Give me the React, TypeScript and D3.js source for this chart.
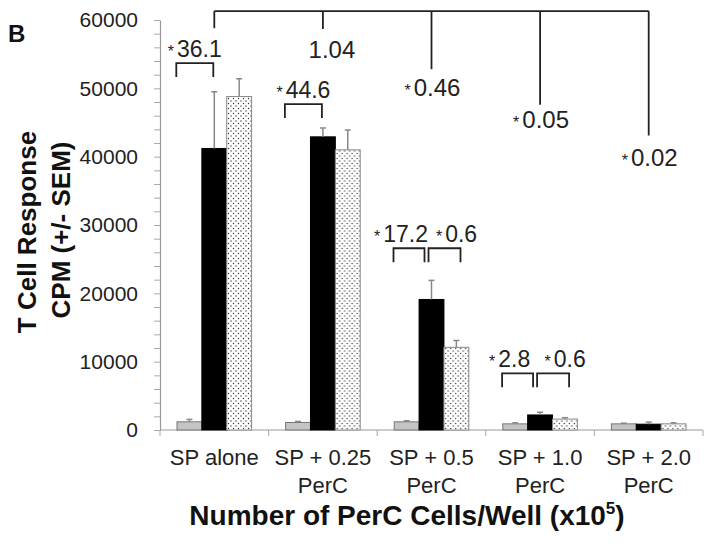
import React, { useEffect, useRef } from "react";
import * as d3 from "d3";

const catLine1 = ["SP alone", "SP + 0.25", "SP + 0.5", "SP + 1.0", "SP + 2.0"];
const catLine2 = ["", "PerC", "PerC", "PerC", "PerC"];
const seriesKeys = ["gray", "black", "dotted"];
const grayVals = [1200, 1100, 1200, 900, 900];
const grayErr = [350, 150, 150, 150, 100];
const blackVals = [41200, 42900, 19100, 2200, 850];
const blackErr = [8300, 1300, 2800, 400, 300];
const dottedVals = [48800, 41000, 12100, 1600, 900];
const dottedErr = [2600, 2900, 1000, 200, 150];

// fold-change comparisons inside a group
const pairGroup = [0, 1, 2, 2, 3, 3];
const pairSide = ["left", "left", "left", "right", "left", "right"];
const pairText = ["36.1", "44.6", "17.2", "0.6", "2.8", "0.6"];
const pairLevel = [53700, 47700, 26600, 26600, 8300, 8300];

// comparisons against SP alone (top bracket)
const topGroup = [1, 2, 3, 4];
const topText = ["1.04", "0.46", "0.05", "0.02"];
const topStar = [false, true, true, true];
const topDropTo = [58700, 52800, 47600, 43100];
const topTextAt = [54500, 48900, 44200, 38700];
const topLevel = 61300;
const refDropTo = 58800;

const FONT = "'Liberation Sans', Arial, Helvetica, sans-serif";

const Chart = () => {
  const svgRef = useRef(null);

  useEffect(() => {
    const svg = d3.select(svgRef.current);
    svg.selectAll("*").remove();

    const width = 714, height = 551;
    const margin = { top: 20, right: 11, bottom: 121, left: 160 };
    svg.attr("width", width).attr("height", height);

    const defs = svg.append("defs");
    const pat = defs.append("pattern")
      .attr("id", "dots")
      .attr("patternUnits", "userSpaceOnUse")
      .attr("width", 5)
      .attr("height", 5);
    pat.append("rect").attr("width", 5).attr("height", 5).attr("fill", "#fff");
    pat.append("circle").attr("cx", 1).attr("cy", 1).attr("r", 0.7).attr("fill", "#333");
    pat.append("circle").attr("cx", 3.5).attr("cy", 3.5).attr("r", 0.7).attr("fill", "#333");

    const x0 = d3.scaleBand()
      .domain(d3.range(catLine1.length))
      .range([margin.left, width - margin.right])
      .padding(0);
    const x1 = d3.scaleBand()
      .domain(seriesKeys)
      .range([17, x0.bandwidth() - 17])
      .padding(0);
    const y = d3.scaleLinear()
      .domain([0, 60000])
      .range([height - margin.bottom, margin.top]);

    const fills = { gray: "#c4c4c4", black: "#000", dotted: "url(#dots)" };
    const strokes = { gray: "#777", black: "#000", dotted: "#888" };
    const vals = { gray: grayVals, black: blackVals, dotted: dottedVals };
    const errs = { gray: grayErr, black: blackErr, dotted: dottedErr };

    // y axis
    const yAxis = svg.append("g")
      .attr("transform", `translate(${margin.left},0)`)
      .call(d3.axisLeft(y)
        .tickValues(d3.range(0, 60001, 2000))
        .tickFormat(d => (d % 10000 === 0 ? String(d) : ""))
        .tickSize(6)
        .tickSizeOuter(0)
        .tickPadding(16));
    yAxis.select(".domain").attr("stroke", "#999").attr("stroke-width", 1.2);
    yAxis.selectAll(".tick line").attr("stroke", "#aaa");
    yAxis.selectAll("text")
      .attr("font-family", FONT)
      .attr("font-size", 21)
      .attr("fill", "#222");

    // x axis
    const base = y(0);
    svg.append("line")
      .attr("x1", margin.left).attr("x2", width - margin.right)
      .attr("y1", base).attr("y2", base)
      .attr("stroke", "#999").attr("stroke-width", 1.2);
    const bounds = d3.range(catLine1.length + 1).map(i =>
      i < catLine1.length ? x0(i) : x0(i - 1) + x0.bandwidth());
    svg.selectAll(".xtick")
      .data(bounds)
      .enter()
      .append("line")
      .attr("x1", d => d).attr("x2", d => d)
      .attr("y1", base).attr("y2", base + 6)
      .attr("stroke", "#aaa");

    // bars
    const groups = svg.selectAll(".grp")
      .data(d3.range(catLine1.length))
      .enter()
      .append("g")
      .attr("transform", i => `translate(${x0(i)},0)`);

    groups.selectAll("rect")
      .data(i => seriesKeys.map(k => ({ k, v: vals[k][i], e: errs[k][i] })))
      .enter()
      .append("rect")
      .attr("x", d => x1(d.k))
      .attr("y", d => y(d.v))
      .attr("width", x1.bandwidth())
      .attr("height", d => base - y(d.v))
      .attr("fill", d => fills[d.k])
      .attr("stroke", d => strokes[d.k])
      .attr("stroke-width", 1);

    const eb = groups.selectAll(".err")
      .data(i => seriesKeys.map(k => ({ k, v: vals[k][i], e: errs[k][i] })))
      .enter()
      .append("g");
    eb.append("line")
      .attr("x1", d => x1(d.k) + x1.bandwidth() / 2)
      .attr("x2", d => x1(d.k) + x1.bandwidth() / 2)
      .attr("y1", d => y(d.v))
      .attr("y2", d => y(d.v + d.e))
      .attr("stroke", "#888").attr("stroke-width", 1.5);
    eb.append("line")
      .attr("x1", d => x1(d.k) + x1.bandwidth() / 2 - 3)
      .attr("x2", d => x1(d.k) + x1.bandwidth() / 2 + 3)
      .attr("y1", d => y(d.v + d.e))
      .attr("y2", d => y(d.v + d.e))
      .attr("stroke", "#888").attr("stroke-width", 1.5);

    // category labels
    const labels = svg.selectAll(".cat")
      .data(d3.range(catLine1.length))
      .enter()
      .append("text")
      .attr("text-anchor", "middle")
      .attr("font-family", FONT)
      .attr("font-size", 22)
      .attr("fill", "#222");
    labels.append("tspan")
      .attr("x", i => x0(i) + x0.bandwidth() / 2)
      .attr("y", 465)
      .text(i => catLine1[i]);
    labels.append("tspan")
      .attr("x", i => x0(i) + x0.bandwidth() / 2)
      .attr("y", 493)
      .text(i => catLine2[i]);

    const blackCenter = g => x0(g) + x1("black") + x1.bandwidth() / 2;

    const starText = (sel, star, num) => {
      if (star) sel.append("tspan").attr("font-size", 16).text("*");
      sel.append("tspan").attr("dx", star ? 3 : 0).text(num);
    };

    // pairwise brackets
    pairText.forEach((t, i) => {
      const g = pairGroup[i];
      const c = blackCenter(g);
      const paired = pairGroup.filter(p => p === g).length > 1;
      const left = pairSide[i] === "left";
      const xa = left ? c - 38 : c - 3;
      const xb = left ? c - (paired ? 7 : 1) : c + 29;
      const yt = y(pairLevel[i]);
      svg.append("path")
        .attr("d", `M${xa},${yt + 14}V${yt}H${xb}V${yt + 14}`)
        .attr("fill", "none").attr("stroke", "#222").attr("stroke-width", 1.8);
      const shift = paired ? (left ? -8 : 12) : 0;
      const txt = svg.append("text")
        .attr("x", (xa + xb) / 2 + shift)
        .attr("y", yt - 6)
        .attr("text-anchor", "middle")
        .attr("font-family", FONT)
        .attr("font-size", 23)
        .attr("fill", "#222");
      starText(txt, true, t);
    });

    // top bracket vs SP alone
    const refX = blackCenter(0);
    const yTop = y(topLevel);
    svg.append("line")
      .attr("x1", refX).attr("x2", blackCenter(topGroup[topGroup.length - 1]))
      .attr("y1", yTop).attr("y2", yTop)
      .attr("stroke", "#222").attr("stroke-width", 1.8);
    svg.append("line")
      .attr("x1", refX).attr("x2", refX)
      .attr("y1", yTop).attr("y2", y(refDropTo))
      .attr("stroke", "#222").attr("stroke-width", 1.8);
    topGroup.forEach((g, i) => {
      const cx = blackCenter(g);
      svg.append("line")
        .attr("x1", cx).attr("x2", cx)
        .attr("y1", yTop).attr("y2", y(topDropTo[i]))
        .attr("stroke", "#222").attr("stroke-width", 1.8);
      const txt = svg.append("text")
        .attr("x", cx + (topStar[i] ? 1 : 9))
        .attr("y", y(topTextAt[i]))
        .attr("text-anchor", "middle")
        .attr("font-family", FONT)
        .attr("font-size", 24)
        .attr("fill", "#222");
      starText(txt, topStar[i], topText[i]);
    });

    // panel letter
    svg.append("text")
      .attr("x", 8).attr("y", 42)
      .attr("font-family", FONT).attr("font-weight", "bold")
      .attr("font-size", 24).attr("fill", "#111")
      .text("B");

    // y title
    svg.append("text")
      .attr("transform", "translate(36,232) rotate(-90)")
      .attr("text-anchor", "middle")
      .attr("font-family", FONT).attr("font-weight", "bold")
      .attr("font-size", 26).attr("fill", "#111")
      .text("T Cell Response");
    svg.append("text")
      .attr("transform", "translate(70,230) rotate(-90)")
      .attr("text-anchor", "middle")
      .attr("font-family", FONT).attr("font-weight", "bold")
      .attr("font-size", 26).attr("fill", "#111")
      .text("CPM (+/- SEM)");

    // x title
    const xt = svg.append("text")
      .attr("x", 407).attr("y", 525)
      .attr("text-anchor", "middle")
      .attr("font-family", FONT).attr("font-weight", "bold")
      .attr("font-size", 28).attr("fill", "#111");
    xt.append("tspan").text("Number of PerC Cells/Well (x10");
    xt.append("tspan").attr("font-size", 17).attr("dy", -11).text("5");
    xt.append("tspan").attr("dy", 11).text(")");
  }, []);

  return <svg ref={svgRef} style={{ position: "absolute", left: 0, top: 0, display: "block" }}></svg>;
};

export default function App() {
  return <Chart />;
}
